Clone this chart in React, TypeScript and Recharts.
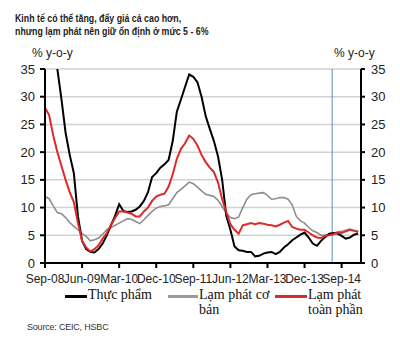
import { LineChart, Line, XAxis, YAxis, CartesianGrid, ReferenceLine } from 'recharts';

// monthly, Sep-08 .. Jan-15
const MONTHS = ['Jan', 'Feb', 'Mar', 'Apr', 'May', 'Jun', 'Jul', 'Aug', 'Sep', 'Oct', 'Nov', 'Dec'];

const food = [
    45, 42, 38.5, 35, 29.5, 23.5, 19.5, 16.2, 8.4, 4,
    2.5, 2.0, 1.9, 2.5, 3.5, 5, 6.8, 8.5, 10.6, 9.4,
    9.2, 9.3, 9.6, 10.2, 11.2, 12.8, 15.5, 16.2, 17.2, 17.8,
    18.6, 22, 27.3, 29.5, 31.8, 34, 33.6, 32.6, 30, 26.5,
    24.2, 22, 19.2, 15, 8.5, 6, 3, 2.3, 2.2, 2.0,
    2.0, 1.2, 1.3, 1.7, 1.9, 2.0, 1.6, 2.0, 2.8, 3.4,
    4.1, 4.6, 5.1, 5.5, 4.6, 3.5, 3.1, 4.0, 4.7, 5.3,
    5.4, 5.3, 4.9, 4.4, 4.6, 5.1, 5.3,
];

const core = [
    12, 11.6, 10.3, 9.1, 8.9, 8.2, 7.3, 6.6, 6.0, 5.3,
    4.8, 4.0, 4.2, 4.5, 5.2, 6.0, 6.4, 6.8, 7.2, 7.6,
    8.0, 7.9, 7.5, 7.1, 7.8, 8.6, 9.3, 9.9, 10.2, 10.3,
    10.5, 11.6, 12.7, 13.3, 13.9, 14.6, 14.3, 13.7, 13.0, 12.4,
    12.2, 12.0, 11.3, 10.2, 9, 8.2, 8.0, 8.3, 10, 11.5,
    12.3, 12.5, 12.6, 12.7, 12.2, 11.5, 11.6, 11.8, 11.8, 11.5,
    10.5, 8.4, 7.6, 7.2, 6.4, 5.8, 5.5, 5.0, 5.0, 5.2,
    5.4, 5.6, 5.7, 5.9, 6.1, 5.9, 5.8,
];

const headline = [
    28, 26.7, 23, 20, 17.5, 15, 12.8, 11, 7.2, 4,
    2.8, 2.1, 2.5, 3.2, 4.4, 5.4, 6.8, 8.1, 9.3, 9.3,
    9.1, 8.9, 8.4, 8.4, 9.3, 10.0, 11.2, 12.0, 12.3, 12.5,
    13.8, 16, 18.8, 20.6, 21.6, 23.0, 22.4, 21.2, 19.5, 18.2,
    17.2, 16.4, 14.5, 11.5, 9.2, 7, 6, 5.3, 6.8, 7.0,
    7.2, 7.0, 7.2, 7.1, 6.9, 6.8, 6.6, 6.9, 7.3, 7.6,
    6.5, 6.2, 6.0, 6.0, 5.5, 5.0, 4.6, 4.5, 4.9, 5.0,
    5.2, 5.5, 5.4, 5.7, 6.0, 5.8, 5.6,
];

const xTicks = [0, 9, 18, 27, 36, 45, 54, 63, 72];
const xTickLabels = ['Sep-08', 'Jun-09', 'Mar-10', 'Dec-10', 'Sep-11', 'Jun-12', 'Mar-13', 'Dec-13', 'Sep-14'];
const yTicks = [0, 5, 10, 15, 20, 25, 30, 35];
const forecastStart = 69.7;

const data = food.map((v, i) => ({
    i,
    month: `${MONTHS[(8 + i) % 12]}-${String(8 + Math.floor((8 + i) / 12)).padStart(2, '0')}`,
    food: v,
    core: core[i],
    headline: headline[i],
}));

const sans = '"Liberation Sans", Arial, sans-serif';
const serif = '"Liberation Serif", "Times New Roman", serif';

const LegendItem = ({ color, left, width, label }: { color: string; left: number; width: number; label: React.ReactNode }) => (
    <div style={{ position: 'absolute', left, top: 287, display: 'flex', alignItems: 'flex-start' }}>
        <div style={{ width, height: 2.5, background: color, marginTop: 8 }} />
        <div style={{ fontFamily: serif, fontSize: 14, lineHeight: '15px', color: '#111', marginLeft: 1 }}>{label}</div>
    </div>
);

const App = () => {
    return (
        <div style={{ position: 'relative', width: 400, height: 341, background: '#fff', overflow: 'hidden' }}>
            <style>{'body{margin:0}'}</style>
            <div style={{
                position: 'absolute', left: 15, top: 12,
                fontFamily: sans,
                fontWeight: 'bold', fontSize: 11, lineHeight: '13px', color: '#222',
                transform: 'scaleX(0.8)', transformOrigin: 'left top', whiteSpace: 'nowrap'
            }}>
                <div>Kinh tế có thể tăng, đẩy giá cả cao hơn,</div>
                <div>nhưng lạm phát nên giữ ổn định ở mức 5 - 6%</div>
            </div>
            <div style={{ position: 'absolute', left: 32, top: 46, fontFamily: sans, fontSize: 12, color: '#222' }}>% y-o-y</div>
            <div style={{ position: 'absolute', left: 334, top: 46, fontFamily: sans, fontSize: 12, color: '#222' }}>% y-o-y</div>

            <LineChart
                width={400}
                height={300}
                data={data}
                margin={{ top: 69, right: 0, left: 0, bottom: 0 }}
                style={{ position: 'absolute', left: 0, top: 0 }}
            >
                <CartesianGrid vertical={false} stroke="#d2d2d2" strokeWidth={1.5} yAxisId="left" />
                <XAxis
                    dataKey="i"
                    type="number"
                    domain={[0, 76.7]}
                    ticks={xTicks}
                    tickFormatter={(v) => xTickLabels[xTicks.indexOf(v)] ?? ''}
                    height={37}
                    interval={0}
                    axisLine={{ stroke: '#000', strokeWidth: 2 }}
                    tickLine={{ stroke: '#000', strokeWidth: 2 }}
                    tickSize={5}
                    tickMargin={6}
                    tick={{ fill: '#222', fontSize: 12, fontFamily: sans }}
                />
                <YAxis
                    yAxisId="left"
                    domain={[0, 35]}
                    ticks={yTicks}
                    allowDataOverflow
                    width={45}
                    axisLine={{ stroke: '#000', strokeWidth: 2 }}
                    tickLine={{ stroke: '#000', strokeWidth: 2 }}
                    tickSize={5}
                    tickMargin={5}
                    tick={{ fill: '#222', fontSize: 13, fontFamily: sans }}
                />
                <YAxis
                    yAxisId="right"
                    orientation="right"
                    domain={[0, 35]}
                    ticks={yTicks}
                    allowDataOverflow
                    width={39}
                    axisLine={{ stroke: '#000', strokeWidth: 2 }}
                    tickLine={{ stroke: '#000', strokeWidth: 2 }}
                    tickSize={4}
                    tickMargin={6}
                    tick={{ fill: '#222', fontSize: 13, fontFamily: sans }}
                />
                <ReferenceLine yAxisId="left" x={forecastStart} stroke="#5b8cc8" strokeWidth={1} />
                <Line yAxisId="left" type="linear" dataKey="core" stroke="#8e8e8e" strokeWidth={1.6} dot={false} isAnimationActive={false} />
                <Line yAxisId="left" type="linear" dataKey="food" stroke="#000" strokeWidth={2} dot={false} isAnimationActive={false} />
                <Line yAxisId="left" type="linear" dataKey="headline" stroke="#dc2a2a" strokeWidth={2} dot={false} isAnimationActive={false} />
            </LineChart>

            <LegendItem color="#000" left={65} width={22} label="Thực phẩm" />
            <LegendItem color="#9a9a9a" left={168} width={30} label={<>Lạm phát cơ<br />bản</>} />
            <LegendItem color="#dc2a2a" left={275} width={32} label={<>Lạm phát<br />toàn phần</>} />

            <div style={{ position: 'absolute', left: 27, top: 322, fontFamily: sans, fontSize: 9, color: '#333', letterSpacing: -0.2 }}>
                Source: CEIC, HSBC
            </div>
        </div>
    );
};

export default App;
